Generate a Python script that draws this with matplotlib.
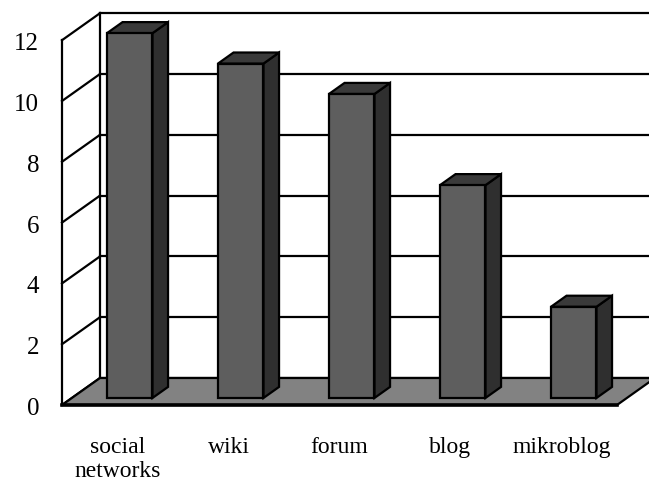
import matplotlib
matplotlib.use('Agg')
import matplotlib.pyplot as plt
from matplotlib.patches import Polygon

categories = ['social\nnetworks', 'wiki', 'forum', 'blog', 'mikroblog']
values = [12, 11, 10, 7, 3]
y_ticks = [0, 2, 4, 6, 8, 10, 12]

plt.rcParams['font.family'] = ['Liberation Serif', 'DejaVu Serif']

# layout of the fake 3d box, in pixels of the 649x482 picture
X0, Y0 = 62, 405      # front left corner of the floor
SLOT = 111.0          # width of one category
UNIT = 30.4           # pixels per value unit
DX, DY = 38, -27      # full depth of the box
BAR_W = 0.41          # bar width, in slots
BAR_D = (0.26, 0.67)  # bar front / back, in depth fraction
LW = 1.6


def proj(x, v, d):
    # x in category slots, v in value units, d in 0..1 of the depth
    return (X0 + x * SLOT + d * DX, Y0 - v * UNIT + d * DY)


fig = plt.figure(figsize=(6.49, 4.82), dpi=100)
ax = fig.add_axes([0, 0, 1, 1])
ax.set_xlim(0, 649)
ax.set_ylim(482, 0)
ax.axis('off')

n = len(categories)
ymax = y_ticks[-1]

# back wall gridlines and left wall
for v in y_ticks:
    xa, ya = proj(0, v, 0)
    xb, yb = proj(0, v, 1)
    xc, yc = proj(n, v, 1)
    ax.plot([xa, xb], [ya, yb], color='black', lw=LW, zorder=1)
    ax.plot([xb, xc], [yb, yc], color='black', lw=LW, zorder=1)
    ax.text(39, ya + 4, str(v), ha='right', va='center', fontsize=18)

for d in (0, 1):
    x1, y1 = proj(0, 0, d)
    x2, y2 = proj(0, ymax, d)
    ax.plot([x1, x2], [y1, y2], color='black', lw=LW, zorder=1)

# floor
floor = [proj(0, 0, 0), proj(n, 0, 0), proj(n, 0, 1), proj(0, 0, 1)]
ax.add_patch(Polygon(floor, closed=True, facecolor='#828282', edgecolor='black', lw=LW, zorder=2))
fx1, fy1 = proj(0, 0, 0)
fx2, fy2 = proj(n, 0, 0)
ax.plot([fx1, fx2], [fy1, fy2], color='black', lw=LW + 1, zorder=2)

# bars
d0, d1 = BAR_D
for i, v in enumerate(values):
    left = i + 0.5 + 0.021 - BAR_W / 2
    right = left + BAR_W
    front = [proj(left, 0, d0), proj(right, 0, d0), proj(right, v, d0), proj(left, v, d0)]
    side = [proj(right, 0, d0), proj(right, 0, d1), proj(right, v, d1), proj(right, v, d0)]
    top = [proj(left, v, d0), proj(right, v, d0), proj(right, v, d1), proj(left, v, d1)]
    ax.add_patch(Polygon(side, closed=True, facecolor='#2f2f2f', edgecolor='black', lw=LW, zorder=3))
    ax.add_patch(Polygon(top, closed=True, facecolor='#3a3a3a', edgecolor='black', lw=LW, zorder=3))
    ax.add_patch(Polygon(front, closed=True, facecolor='#5e5e5e', edgecolor='black', lw=LW, zorder=4))

# category labels
for i, name in enumerate(categories):
    x, _ = proj(i + 0.5, 0, 0)
    ax.text(x, 437, name, ha='center', va='top', fontsize=17, linespacing=1.2)

fig.savefig('out.png', dpi=100, facecolor='white')
